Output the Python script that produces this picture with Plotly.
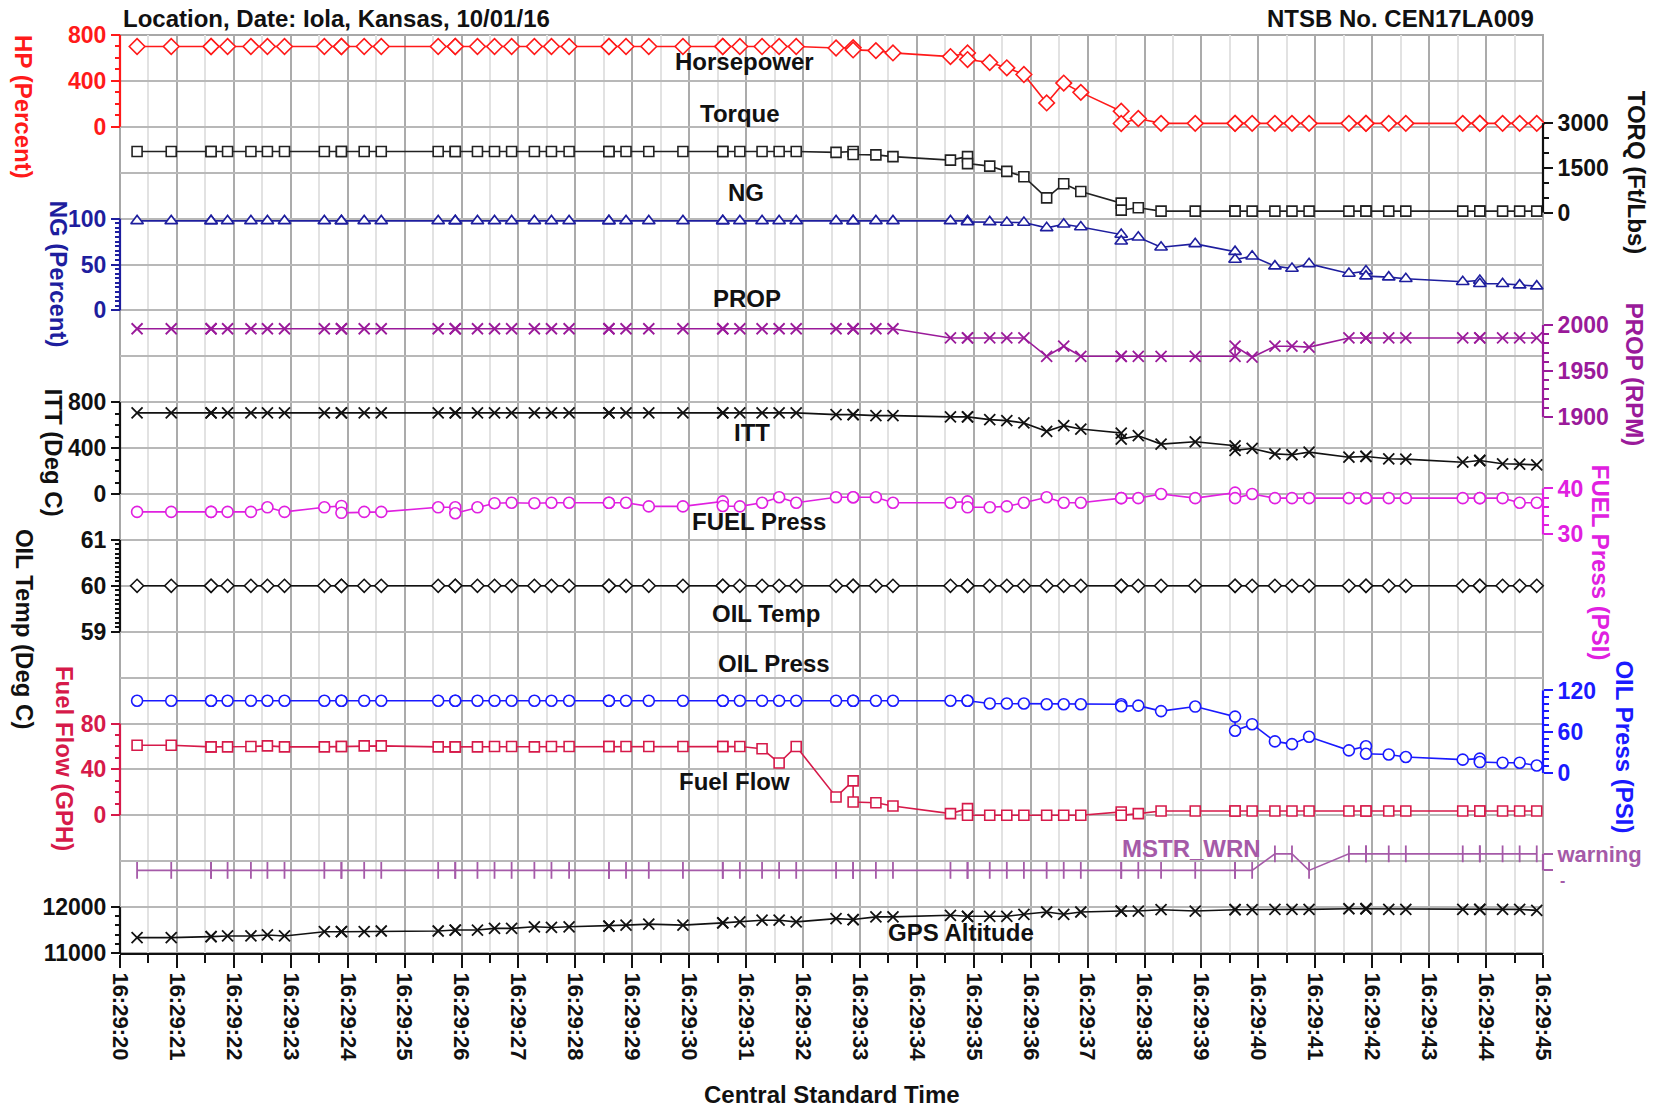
import pandas as pd
import plotly.graph_objects as go

BASE = pd.Timestamp("2016-10-01 16:29:00")

T_SEC = [20.30, 20.90, 21.60, 21.60, 21.89, 22.30, 22.59, 22.89, 23.59, 23.89, 23.89,
         24.29, 24.59, 25.59, 25.89, 25.89, 26.28, 26.58, 26.88, 27.28, 27.58, 27.89,
         28.59, 28.59, 28.89, 29.29, 29.89, 30.59, 30.59, 30.89, 31.28, 31.58, 31.88,
         32.58, 32.88, 32.88, 33.28, 33.58, 34.59, 34.89, 34.89, 35.28, 35.58, 35.88,
         36.28, 36.58, 36.88, 37.59, 37.59, 37.89, 38.29, 38.89, 39.59, 39.59, 39.89,
         40.29, 40.59, 40.89, 41.59, 41.89, 41.89, 42.29, 42.59, 43.59, 43.89, 43.89,
         44.29, 44.59, 44.89]

HP = [700] * 33 + [687, 690, 670, 664, 644, 612, 644, 586, 560, 514, 456,
                   208, 381, 300, 136, 29, 72, 30, 30, 30, 30, 30] + [30] * 14

TORQ = [2050] * 33 + [2020, 2050, 1950, 1937, 1878, 1760, 1878, 1642, 1559, 1382, 1205,
                      496, 969, 709, 319, 83, 165, 50, 50, 50, 50, 50] + [50] * 14

NG = [97.5] * 33 + [97.5, 97.5, 97.5, 97.5, 97.5, 97.5, 97.5, 96.4, 96.4, 95.7, 95.7,
                    89.9, 93.8, 90.9, 82.6, 75.4, 79.7, 68.8, 72.5, 64.0, 55.4, 59.0,
                    48.2, 45.7, 50.7, 40.2, 42.8, 37.3, 36.2, 34.4, 31.2, 32.6, 29.0,
                    29.0, 27.5, 26.4]

PROP = [1996] * 33 + [1996, 1996, 1996, 1996, 1996, 1986, 1986, 1986, 1986, 1986, 1986,
                      1966, 1977, 1966, 1966, 1966, 1966, 1966, 1966, 1966, 1977, 1965,
                      1977, 1977, 1976, 1986, 1986, 1986, 1986, 1986, 1986, 1986, 1986,
                      1986, 1986, 1986]

ITT = [707] * 33 + [692, 692, 692, 683, 683, 672, 672, 672, 648, 639, 619,
                    546, 596, 566, 531, 479, 508, 435, 455, 420, 380, 397,
                    350, 342, 365, 321, 327, 327, 307, 304, 277, 292, 292,
                    263, 260, 254]

FUEL_PRESS = [34.9, 34.9, 34.9, 34.9, 34.9, 34.9, 35.9, 34.9, 35.9, 36.2, 34.7,
              34.9, 34.9, 35.9, 35.9, 34.6, 35.9, 36.8, 36.9, 36.8, 36.9, 36.9,
              36.9, 36.9, 36.9, 36.1, 36.1, 37.2, 36.2, 36.1, 36.9, 38.1, 36.9,
              38.1, 38.1, 38.1, 38.1, 36.9, 36.9, 37.2, 35.9, 35.9, 36.1, 36.9,
              38.1, 36.9, 36.9, 37.9, 37.9, 37.9, 38.8, 37.9, 39.1, 37.9, 38.8,
              37.9, 37.9, 37.9, 37.9, 37.9, 37.9, 37.9, 37.9, 37.9, 37.9, 37.9,
              37.9, 36.9, 36.9]

OIL_TEMP = [60] * 69

OIL_PRESS = [105] * 41 + [101, 101, 101,
                          100, 100, 100, 100, 97, 98, 90, 96.6, 82, 61.5, 71,
                          46, 42, 52.7, 33, 39, 28, 27, 23.4, 19.5, 21, 16,
                          15, 15, 11]

FUEL_FLOW = [61, 61, 59.6, 59.6, 59.6, 60, 60.5, 59.6, 59.6, 60, 60,
             60.5, 60.5, 59.6, 59.6, 59.6, 59.6, 60, 60, 59.6, 60, 60,
             60, 60, 60, 60, 60, 60, 60, 60, 58, 45.6, 60,
             16, 30, 11.6, 11, 8.1, 1.5, 5.8, 0, 0, 0, 0,
             0, 0, 0, 2.9, 0, 1.5, 3.8, 3.8, 3.8, 3.8, 3.8] + [3.8] * 14

MSTR_WRN = [0] * 55 + [1, 1, 0, 1, 1, 1, 1, 1, 1, 1, 1, 1, 1, 1]
WRN_LABELS = ["-", "warning"]

GPS_ALT = [11336, 11336, 11357, 11357, 11371, 11371, 11393, 11371, 11464, 11464, 11464,
           11464, 11479, 11479, 11500, 11500, 11500, 11536, 11536, 11571, 11557, 11571,
           11586, 11586, 11607, 11629, 11607, 11657, 11657, 11679, 11714, 11714, 11679,
           11750, 11729, 11729, 11786, 11786, 11821, 11800, 11800, 11800, 11800, 11843,
           11893, 11843, 11893, 11914, 11914, 11914, 11943, 11914, 11943, 11943, 11943,
           11950, 11950, 11950, 11964, 11964, 11964, 11950, 11950, 11950, 11950, 11950,
           11950, 11950, 11929]

X = [BASE + pd.Timedelta(seconds=s) for s in T_SEC]

FONT = "Liberation Sans, Arial, sans-serif"
L, R, TOP, BOT, W_, H_ = 120, 1543, 35, 953, 1666, 1111
PW = R - L
NG_ROWS = 20


def rng(v_top, k_top, v_bot, k_bot):
    g_top, g_bot = NG_ROWS - k_top, NG_ROWS - k_bot
    s = (v_top - v_bot) / (g_top - g_bot)
    return [v_bot - s * g_bot, v_bot + s * (NG_ROWS - g_bot)]


def frange(a, b, step):
    out, v = [], a
    while v <= b + 1e-9:
        out.append(round(v, 6))
        v += step
    return out


# name, side, color, major ticks, minor step, calibration, tick text
AXES = [
    ("HP", "left", "#FF1A1A", [0, 400, 800], 100, (800, 0, 0, 2), None),
    ("TORQ", "right", "#111111", [0, 1500, 3000], 500, (3000, 1.92, 0, 3.87), None),
    ("NG", "left", "#1E1E9E", [0, 50, 100], 5, (100, 4, 0, 6), None),
    ("PROP", "right", "#9A1A9A", [1900, 1950, 2000], 10, (2000, 6.32, 1900, 8.32), None),
    ("ITT", "left", "#111111", [0, 400, 800], 100, (800, 8, 0, 10), None),
    ("FP", "right", "#E020E0", [30, 40], 2, (40, 9.88, 30, 10.88), None),
    ("OT", "left", "#111111", [59, 60, 61], 0.1, (61, 11, 59, 13), None),
    ("OP", "right", "#1A1AFF", [0, 60, 120], 10, (120, 14.28, 0, 16.08), None),
    ("FF", "left", "#D61A4A", [0, 40, 80], 10, (80, 15, 0, 17), None),
    ("MW", "right", "#A55AA8", [0, 1], None, (1, 17.84, 0, 18.2), ["", WRN_LABELS[1]]),
    ("GPS", "left", "#111111", [11000, 12000], 200, (12000, 19, 11000, 20), None),
]

fig = go.Figure()
layout_axes = {}
shapes = []
axis_ref = {}
for i, (name, side, color, ticks, mstep, cal, ttext) in enumerate(AXES):
    n = i + 2
    axis_ref[name] = f"y{n}"
    r = rng(*cal)
    d = dict(overlaying="y", anchor="free", position=0 if side == "left" else 1,
             side=side, range=r, showgrid=False, zeroline=False, showline=False,
             tickmode="array", tickvals=ticks, ticks="outside", ticklen=9,
             tickwidth=2, tickcolor=color, tickformat="d",
             tickfont=dict(family=FONT, size=23, color=color, weight="bold"))
    if ttext:
        d["ticktext"] = ttext
        d["tickfont"]["size"] = 22
    if mstep:
        d["minor"] = dict(tickmode="array", tickvals=frange(min(ticks), max(ticks), mstep),
                          ticks="outside", ticklen=5, tickwidth=1.5, tickcolor=color,
                          showgrid=False)
    layout_axes[f"yaxis{n}"] = d
    xs = 0 if side == "left" else 1
    shapes.append(dict(type="line", xref="paper", yref=f"y{n}", x0=xs, x1=xs,
                       y0=min(ticks), y1=max(ticks),
                       line=dict(color=color, width=2.2), layer="above"))

SERIES = [
    (HP, "HP", "#FF1A1A", "diamond", 12),
    (TORQ, "TORQ", "#222222", "square", 10),
    (NG, "NG", "#1E1E9E", "triangle-up", 11),
    (PROP, "PROP", "#9A1A9A", "x-thin-open", 11),
    (ITT, "ITT", "#111111", "x-thin-open", 11),
    (FUEL_PRESS, "FP", "#E020E0", "circle", 11),
    (OIL_TEMP, "OT", "#111111", "diamond", 10),
    (OIL_PRESS, "OP", "#1A1AFF", "circle", 11),
    (FUEL_FLOW, "FF", "#D61A4A", "square", 10),
    (MSTR_WRN, "MW", "#A55AA8", "line-ns", 12),
    (GPS_ALT, "GPS", "#111111", "x-thin-open", 11),
]
for vals, ax, color, sym, size in SERIES:
    open_line = sym.startswith("x-thin") or sym.startswith("line")
    fig.add_trace(go.Scatter(
        x=X, y=vals, yaxis=axis_ref[ax], mode="lines+markers", showlegend=False,
        cliponaxis=False,
        line=dict(color=color, width=1.6),
        marker=dict(symbol=sym, size=size, color="white" if not open_line else color,
                    line=dict(color=color, width=1.8 if open_line else 1.6))))


def px_x(px):
    return (px - L) / PW


def t(s):
    return BASE + pd.Timedelta(seconds=s)


annotations = []
TITLES = [
    ("HP (Percent)", 24, 18.43, "#FF1A1A"),
    ("NG (Percent)", 58, 14.8, "#1E1E9E"),
    ("ITT (Deg C)", 53, 10.9, "#111111"),
    ("OIL Temp (Deg C)", 24, 7.06, "#111111"),
    ("Fuel Flow (GPH)", 64, 4.25, "#D61A4A"),
    ("GPS-ALT (Feet)", 21, -0.4, "#111111"),
    ("TORQ (Ft/Lbs)", 1636, 17.0, "#111111"),
    ("PROP (RPM)", 1634, 12.6, "#9A1A9A"),
    ("FUEL Press (PSI)", 1600, 8.5, "#E020E0"),
    ("OIL Press (PSI)", 1625, 4.5, "#1A1AFF"),
]
for text, px, g, color in TITLES:
    annotations.append(dict(text=text, xref="paper", x=px_x(px), yref="y", y=g,
                            textangle=90, showarrow=False, xanchor="center", yanchor="middle",
                            font=dict(family=FONT, size=24, color=color, weight="bold")))

# low-state label of the warning scale, set slightly below the tick like the reference
annotations.append(dict(text=WRN_LABELS[0], xref="paper", x=px_x(1558), yref="y",
                        y=NG_ROWS - 18.42, xanchor="left", yanchor="middle", showarrow=False,
                        font=dict(family=FONT, size=16, color="#A55AA8", weight="bold")))

LABELS = [
    ("Horsepower", 30.98, 19.43, "#111111"),
    ("Torque", 30.90, 18.28, "#111111"),
    ("NG", 31.0, 16.57, "#111111"),
    ("PROP", 31.02, 14.25, "#111111"),
    ("ITT", 31.1, 11.33, "#111111"),
    ("FUEL Press", 31.22, 9.4, "#111111"),
    ("OIL Temp", 31.35, 7.4, "#111111"),
    ("OIL Press", 31.49, 6.3, "#111111"),
    ("Fuel Flow", 30.8, 3.73, "#111111"),
    ("MSTR_WRN", 38.82, 2.27, "#A55AA8"),
    ("GPS Altitude", 34.77, 0.44, "#111111"),
]
for text, s, g, color in LABELS:
    annotations.append(dict(text=text, xref="x", x=t(s), yref="y", y=g, showarrow=False,
                            xanchor="center", yanchor="middle",
                            font=dict(family=FONT, size=24, color=color, weight="bold")))

annotations += [
    dict(text="Location, Date: Iola, Kansas, 10/01/16", xref="paper", x=px_x(121),
         yref="paper", y=(BOT - 19) / (BOT - TOP), xanchor="left", yanchor="middle",
         showarrow=False, font=dict(family=FONT, size=24, color="#111111", weight="bold")),
    dict(text="NTSB No. CEN17LA009", xref="paper", x=px_x(1536),
         yref="paper", y=(BOT - 19) / (BOT - TOP), xanchor="right", yanchor="middle",
         showarrow=False, font=dict(family=FONT, size=24, color="#111111", weight="bold")),
    dict(text="Central Standard Time", xref="paper", x=0.5,
         yref="paper", y=(BOT - 1094) / (BOT - TOP), xanchor="center", yanchor="middle",
         showarrow=False, font=dict(family=FONT, size=24, color="#111111", weight="bold")),
]

shapes.insert(0, dict(type="rect", xref="paper", yref="paper", x0=0, x1=1, y0=0, y1=1,
                      line=dict(color="#A8A8A8", width=2), layer="below"))

fig.update_layout(
    width=W_, height=H_, autosize=False,
    margin=dict(l=L, r=W_ - R, t=TOP, b=H_ - BOT, pad=0),
    paper_bgcolor="white", plot_bgcolor="white",
    font=dict(family=FONT, color="#111111"),
    xaxis=dict(type="date", range=[t(20), t(45)], tick0=t(20), dtick=1000,
               tickformat="%H:%M:%S", tickangle=90, ticks="outside", ticklen=13,
               tickwidth=2, tickcolor="#111111", showline=True, linecolor="#111111",
               linewidth=2, showgrid=True, gridcolor="#ABABAB", gridwidth=2,
               zeroline=False,
               tickfont=dict(family=FONT, size=22, color="#111111", weight="bold"),
               minor=dict(dtick=500, ticks="outside", ticklen=8, tickwidth=2,
                          tickcolor="#111111", showgrid=True, gridcolor="#E2E2E2",
                          gridwidth=2)),
    yaxis=dict(range=[0, NG_ROWS], dtick=1, tick0=0, showgrid=True, gridcolor="#B8B8B8",
               gridwidth=2, showticklabels=False, ticks="", zeroline=False, showline=False),
    annotations=annotations,
    shapes=shapes,
    **layout_axes,
)

fig.write_html("out.html", config={"displayModeBar": False},
               post_script="document.body.style.margin='0';document.body.style.overflow='hidden';")
